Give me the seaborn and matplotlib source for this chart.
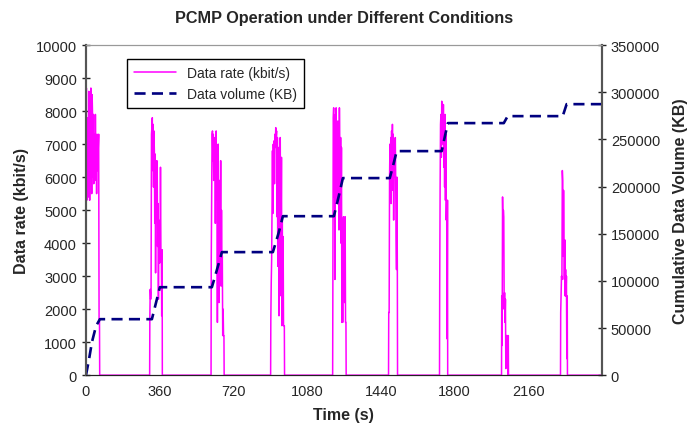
import numpy as np
import pandas as pd
import matplotlib
matplotlib.use('Agg')
import matplotlib.pyplot as plt
import seaborn as sns

# Bursts of the data rate (kbit/s): start time (s), samples every 2 s
step = 2
burst_starts = [0, 312, 612, 903, 1206, 1479, 1728, 2031, 2319]
burst_rates = [
    [6000, 8700, 5300, 7800, 6200, 7800, 5400, 8600, 7600, 5300, 8100, 6400,
     8700, 7300, 5500, 8500, 7900, 6000, 7900, 5800, 6800, 7300, 5900, 7900,
     6500, 7200, 5500, 7300, 6200, 7200, 6900, 7300, 1700, 1700],
    [1800, 2600, 2300, 2500, 7300, 7500, 7800, 6200, 7600, 5700, 7400, 6800,
     4600, 6700, 3100, 6300, 5000, 6500, 6200, 3900, 5200, 2300, 4700, 3900,
     3400, 3800, 6300, 3800, 3800, 1800, 3800],
    [3500, 5600, 7300, 7400, 6500, 7300, 5900, 7100, 6000, 7200, 4600, 6800,
     7400, 5300, 6100, 1600, 5800, 7000, 3400, 2200, 5900, 4700, 3900, 6500,
     2700, 5000, 3200, 3600, 1200, 2000, 1200, 1200],
    [1700, 2800, 3500, 5200, 6800, 4900, 7000, 6300, 7100, 5800, 7300, 6900,
     7500, 7200, 7400, 4800, 7200, 3300, 6900, 5200, 1800, 5600, 2400, 7200,
     3900, 4300, 6600, 1500, 4700, 2300, 4200, 1500, 1500, 1500],
    [2300, 7800, 8100, 5400, 7500, 2900, 7900, 6300, 8100, 5300, 7100, 6600,
     7700, 5200, 7300, 4400, 8100, 6600, 5100, 7200, 4000, 6900, 1600, 4500,
     1600, 4500, 4800, 3700, 3700, 2200, 4800, 1600, 1600],
    [1900, 1900, 6000, 7000, 6200, 7200, 5200, 7400, 6300, 7600, 5600, 7300,
     4700, 7100, 6900, 6000, 7200, 5900, 4200, 3200, 6000, 3200],
    [2700, 5700, 7600, 7900, 6600, 8300, 7300, 8100, 7000, 8200, 6300, 7700,
     5700, 7900, 5300, 7300, 4700, 5300, 1100, 5300],
    [2400, 900, 5400, 4500, 5000, 4800, 2000, 2500, 1600, 2300, 200, 1200,
     1200, 300, 1200, 0, 1200],
    [1900, 2500, 3000, 2900, 6200, 5900, 3600, 5600, 4400, 2900, 4100, 2400,
     3200, 2400, 3000, 500, 2400],
]
t_end = 2520

# Cumulative data volume (KB), read at its corners
vol_t = [0, 15, 29, 49, 68, 322, 340, 361, 615, 640, 664, 913, 940, 962,
         1211, 1235, 1255, 1484, 1500, 1518, 1738, 1755, 1768, 2041, 2060,
         2329, 2348, 2520]
vol_kb = [0, 17000, 35000, 52000, 59400, 59400, 75000, 93300, 93300, 112000,
          130500, 130500, 150000, 168600, 168600, 190000, 209000, 209000,
          222000, 237600, 237600, 255000, 267300, 267300, 274700, 274700,
          287400, 287400]

# build the rate series with zeros between bursts
t_list, r_list = [], []
for s, vals in zip(burst_starts, burst_rates):
    ts = [s + step * i for i in range(len(vals))]
    if s > 0:
        t_list.append(s - 1)
        r_list.append(0)
    t_list += ts
    r_list += vals
    t_list.append(ts[-1] + 1)
    r_list.append(0)
t_list.append(t_end)
r_list.append(0)
rate = pd.DataFrame({'t': t_list, 'rate': r_list})
vol = pd.DataFrame({'t': vol_t, 'kb': vol_kb})

sns.set_style('white')
plt.rcParams['font.family'] = ['Liberation Sans', 'DejaVu Sans']

fig, ax = plt.subplots(figsize=(6.99, 4.27), dpi=100)
fig.subplots_adjust(left=0.123, right=0.861, top=0.892, bottom=0.119)
ax2 = ax.twinx()

sns.lineplot(data=rate, x='t', y='rate', ax=ax, color='#FF00FF',
             linewidth=1.1, label='Data rate (kbit/s)', legend=False)
sns.lineplot(data=vol, x='t', y='kb', ax=ax2, color='#000080', linewidth=1.9,
             label='Data volume (KB)', legend=False)
ax2.lines[0].set_dashes((4.2, 2.4))

ax.set_xlim(0, t_end)
ax.set_ylim(0, 10000)
ax2.set_ylim(0, 350000)
ax.set_xticks(range(0, 2521, 360))
ax.set_xticklabels([str(v) for v in range(0, 2161, 360)] + [''])
ax.set_yticks(range(0, 10001, 1000))
ax2.set_yticks(range(0, 350001, 50000))

for a in (ax, ax2):
    a.tick_params(labelsize=10.5, length=6, width=1, direction='inout', color='#222222')
    a.spines['top'].set_color('#999999')
    a.spines['top'].set_linewidth(0.8)
    a.spines['bottom'].set_color('#222222')
    a.spines['left'].set_color('#555555')
    a.spines['left'].set_linewidth(1.5)
    a.spines['right'].set_color('#555555')
    a.spines['right'].set_linewidth(1.5)

ax.set_xlabel('Time (s)', fontsize=11.5, fontweight='bold', labelpad=6)
ax.set_ylabel('Data rate (kbit/s)', fontsize=11.5, fontweight='bold', labelpad=5)
ax2.set_ylabel('Cumulative Data Volume (KB)', fontsize=11.5, fontweight='bold',
               labelpad=9)
ax.set_title('PCMP Operation under Different Conditions', fontsize=11.7,
             fontweight='bold', pad=17)

h1, lab1 = ax.get_legend_handles_labels()
h2, lab2 = ax2.get_legend_handles_labels()
leg = ax2.legend(h1 + h2, lab1 + lab2, loc='upper left',
                 bbox_to_anchor=(0.067, 0.98), fontsize=10, frameon=True,
                 fancybox=False, edgecolor='black', framealpha=1,
                 borderpad=0.5, handlelength=3, labelspacing=0.55)
leg.get_frame().set_linewidth(1.0)

plt.savefig('out.png', dpi=100)
plt.close()
